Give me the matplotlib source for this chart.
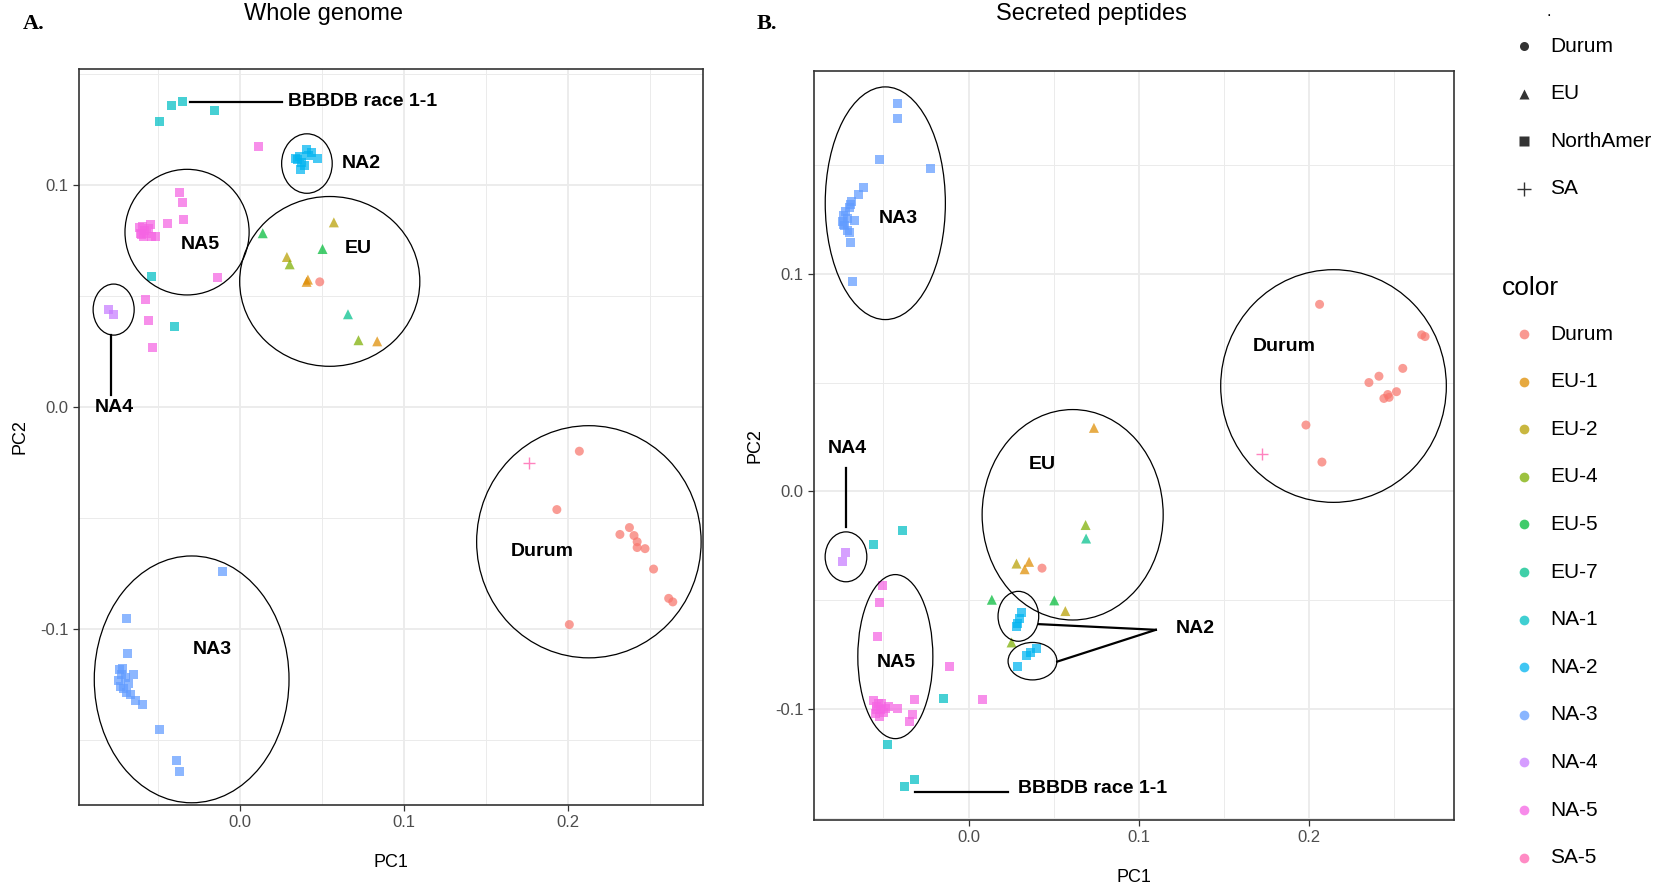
import matplotlib
matplotlib.use("Agg")
import matplotlib.pyplot as plt
from matplotlib.patches import Ellipse

plt.rcParams["font.family"] = ["Liberation Sans", "DejaVu Sans"]
plt.rcParams["axes.unicode_minus"] = False

# =========================
# Groups / colours / shapes
# =========================
groups = ["Durum", "EU-1", "EU-2", "EU-4", "EU-5", "EU-7",
          "NA-1", "NA-2", "NA-3", "NA-4", "NA-5", "SA-5"]
group_colors = ["#F8766D", "#DE8C00", "#B79F00", "#7CAE00", "#00BA38", "#00C08B",
                "#00BFC4", "#00B4F0", "#619CFF", "#C77CFF", "#F564E3", "#FF64B0"]
origins = ["Durum", "EU", "NorthAmer", "SA"]
origin_markers = ["o", "^", "s", "+"]

# =========================
# A. Whole genome (PC1, PC2)
# =========================
wg_durum = [(0.2067, -0.0199), (0.193, -0.0462), (0.2372, -0.0543), (0.2314, -0.0574),
            (0.240, -0.0579), (0.2419, -0.0607), (0.2419, -0.0633), (0.2467, -0.0638),
            (0.2519, -0.073), (0.2611, -0.0862), (0.2636, -0.0878), (0.2006, -0.098),
            (0.0486, 0.0564)]
wg_eu1 = [(0.0414, 0.0574), (0.0406, 0.0564), (0.0836, 0.0296)]
wg_eu2 = [(0.0572, 0.0832), (0.0286, 0.0676)]
wg_eu4 = [(0.0303, 0.0643), (0.0722, 0.0301)]
wg_eu5 = [(0.0139, 0.0783), (0.0503, 0.0712)]
wg_eu7 = [(0.0658, 0.0418)]
wg_na1 = [(-0.0492, 0.1288), (-0.0414, 0.136), (-0.035, 0.1375), (-0.0153, 0.1334),
          (-0.0539, 0.0589), (-0.0397, 0.0365)]
wg_na2 = [(0.0336, 0.112), (0.0364, 0.1128), (0.0406, 0.1161), (0.0433, 0.1145),
          (0.0475, 0.1122), (0.0378, 0.1102), (0.0392, 0.1089), (0.0369, 0.1071),
          (0.035, 0.1115), (0.0419, 0.1135)]
wg_na3 = [(-0.0108, -0.0742), (-0.0692, -0.0952), (-0.0686, -0.111), (-0.0733, -0.1181),
          (-0.0714, -0.1176), (-0.0719, -0.1207), (-0.0742, -0.1232), (-0.0725, -0.1258),
          (-0.0706, -0.127), (-0.0692, -0.1288), (-0.0669, -0.1296), (-0.065, -0.1207),
          (-0.0697, -0.1219), (-0.0678, -0.1245), (-0.0636, -0.1321), (-0.0594, -0.1339),
          (-0.0492, -0.1452), (-0.0386, -0.1594), (-0.0367, -0.1643)]
wg_na4 = [(-0.080, 0.0439), (-0.0772, 0.0416)]
wg_na5 = [(0.0111, 0.1173), (-0.0367, 0.0967), (-0.035, 0.0921), (-0.0344, 0.0844),
          (-0.0442, 0.0827), (-0.0614, 0.0809), (-0.0594, 0.0814), (-0.0581, 0.0796),
          (-0.060, 0.0778), (-0.0567, 0.0783), (-0.0547, 0.0821), (-0.0536, 0.077),
          (-0.0517, 0.077), (-0.0608, 0.0783), (-0.0586, 0.077), (-0.0558, 0.0804),
          (-0.0136, 0.0582), (-0.0572, 0.0485), (-0.0558, 0.0388), (-0.0533, 0.027)]
wg_sa5 = [(0.1761, -0.025)]

# cluster outlines (cx, cy, width, height) and labels
wg_ellipses = [(0.0408, 0.1097, 0.0308, 0.0268), (-0.0322, 0.0788, 0.0756, 0.0566),
               (0.0547, 0.0566, 0.1097, 0.0765), (-0.0769, 0.0439, 0.025, 0.023),
               (-0.0294, -0.1227, 0.1186, 0.1112), (0.2125, -0.0607, 0.1367, 0.1046)]
wg_labels = [("NA2", 0.062, 0.1097, "left"), ("NA5", -0.0239, 0.0732, "center"),
             ("EU", 0.072, 0.0714, "center"), ("NA4", -0.0767, 0.0, "center"),
             ("Durum", 0.1844, -0.0653, "center"), ("NA3", -0.0167, -0.1094, "center"),
             ("BBBDB race 1-1", 0.0294, 0.1375, "left")]
wg_lines = [((-0.0303, 0.0258), (0.1375, 0.1375)), ((-0.0783, -0.0783), (0.0324, 0.0056))]

# =========================
# B. Secreted peptides
# =========================
sp_durum = [(0.2063, 0.0859), (0.2663, 0.0719), (0.2683, 0.0711), (0.2552, 0.0565),
            (0.2412, 0.0529), (0.2353, 0.050), (0.2515, 0.0458), (0.2464, 0.0445),
            (0.2472, 0.0432), (0.2441, 0.0427), (0.1983, 0.0305), (0.2077, 0.0135),
            (0.0432, -0.0352)]
sp_eu1 = [(0.0737, 0.0292), (0.0356, -0.0323), (0.033, -0.0357)]
sp_eu2 = [(0.0282, -0.0331), (0.0569, -0.0549)]
sp_eu4 = [(0.0688, -0.0154), (0.0253, -0.0693)]
sp_eu5 = [(0.0137, -0.0497), (0.0504, -0.050)]
sp_eu7 = [(0.0691, -0.0216)]
sp_na1 = [(-0.0387, -0.018), (-0.0558, -0.0242), (-0.0475, -0.1161), (-0.0376, -0.1354),
          (-0.0316, -0.1323), (-0.0145, -0.0951)]
sp_na2 = [(0.0313, -0.0557), (0.0301, -0.0583), (0.029, -0.0604), (0.0282, -0.0622),
          (0.0401, -0.0719), (0.0367, -0.074), (0.0339, -0.0753), (0.0287, -0.0805)]
sp_na3 = [(-0.0418, 0.1779), (-0.0418, 0.1711), (-0.0523, 0.1526), (-0.0222, 0.1482),
          (-0.062, 0.1396), (-0.0646, 0.1362), (-0.0686, 0.1331), (-0.070, 0.1305),
          (-0.072, 0.1286), (-0.0737, 0.1266), (-0.0743, 0.124), (-0.0728, 0.1219),
          (-0.0714, 0.120), (-0.070, 0.1188), (-0.0671, 0.1245), (-0.0691, 0.1318),
          (-0.0714, 0.1253), (-0.0734, 0.1227), (-0.0691, 0.1141), (-0.0683, 0.0964)]
sp_na4 = [(-0.0723, -0.0279), (-0.0743, -0.032)]
sp_na5 = [(-0.0506, -0.043), (-0.0523, -0.051), (-0.0535, -0.0664), (-0.0114, -0.0805),
          (0.0085, -0.0956), (-0.0316, -0.0956), (-0.0415, -0.0995), (-0.033, -0.1026),
          (-0.0344, -0.1057), (-0.0558, -0.0961), (-0.0543, -0.0987), (-0.0529, -0.0974),
          (-0.0515, -0.100), (-0.0501, -0.1013), (-0.0486, -0.0995), (-0.0549, -0.1021),
          (-0.0526, -0.1031), (-0.0509, -0.0974), (-0.0472, -0.0987), (-0.0543, -0.100)]
sp_sa5 = [(0.1724, 0.0174)]

sp_ellipses = [(-0.0489, 0.1323, 0.0706, 0.1068), (-0.072, -0.030, 0.0245, 0.0229),
               (-0.043, -0.0758, 0.0441, 0.0753), (0.0612, -0.0107, 0.1064, 0.0966),
               (0.0293, -0.0573, 0.0239, 0.0229), (0.0376, -0.0779, 0.0287, 0.0172),
               (0.2145, 0.0484, 0.1326, 0.1068)]
sp_labels = [("NA3", -0.041, 0.1253, "center"), ("NA4", -0.0714, 0.0198, "center"),
             ("NA5", -0.0427, -0.0786, "center"), ("EU", 0.0435, 0.0125, "center"),
             ("NA2", 0.1215, -0.0628, "left"), ("Durum", 0.1855, 0.0667, "center"),
             ("BBBDB race 1-1", 0.029, -0.1365, "left")]
sp_lines = [((-0.0313, 0.023), (-0.138, -0.138)), ((-0.072, -0.072), (0.0107, -0.0161)),
            ((0.0413, 0.1101), (-0.0609, -0.0635)), ((0.0521, 0.1101), (-0.0781, -0.0635))]

wg_data = [wg_durum, wg_eu1, wg_eu2, wg_eu4, wg_eu5, wg_eu7,
           wg_na1, wg_na2, wg_na3, wg_na4, wg_na5, wg_sa5]
sp_data = [sp_durum, sp_eu1, sp_eu2, sp_eu4, sp_eu5, sp_eu7,
           sp_na1, sp_na2, sp_na3, sp_na4, sp_na5, sp_sa5]


def origin_of(group):
    if group == "Durum":
        return 0
    if group.startswith("EU"):
        return 1
    if group.startswith("NA"):
        return 2
    return 3


def panel(ax, data, ellipses, labels, lines, xlim, ylim):
    ax.set_facecolor("white")
    ax.set_xlim(*xlim)
    ax.set_ylim(*ylim)
    ax.set_xticks([0.0, 0.1, 0.2])
    ax.set_yticks([-0.1, 0.0, 0.1])
    ax.set_xticks([-0.05, 0.05, 0.15, 0.25], minor=True)
    ax.set_yticks([-0.15, -0.05, 0.05, 0.15], minor=True)
    ax.grid(which="major", color="#EBEBEB", lw=1.3, zorder=0)
    ax.grid(which="minor", color="#EBEBEB", lw=0.7, zorder=0)
    ax.set_axisbelow(True)
    ax.tick_params(which="minor", length=0)
    ax.tick_params(which="major", length=4, width=0.9, color="#333333",
                   labelcolor="#4D4D4D", labelsize=12)
    for s in ax.spines.values():
        s.set_color("#333333")
        s.set_linewidth(1.2)

    for g, pts, col in zip(groups, data, group_colors):
        xs = [p[0] for p in pts]
        ys = [p[1] for p in pts]
        m = origin_markers[origin_of(g)]
        if m == "+":
            ax.scatter(xs, ys, marker="+", s=75, color=col, lw=1.0, alpha=0.8, zorder=3)
        else:
            size = {"o": 42, "^": 52, "s": 42}[m]
            ax.scatter(xs, ys, marker=m, s=size, color=col, alpha=0.72,
                       edgecolors="none", zorder=3)

    for cx, cy, w, h in ellipses:
        ax.add_patch(Ellipse((cx, cy), w, h, fill=False, ec="black", lw=0.9, zorder=4))
    for xs, ys in lines:
        ax.plot(xs, ys, color="black", lw=1.6, zorder=4)
    for txt, x, y, ha in labels:
        ax.text(x, y, txt, ha=ha, va="center", fontsize=14, fontweight="bold", zorder=5)

    ax.set_xlabel("PC1", fontsize=13, labelpad=17)
    ax.set_ylabel("PC2", fontsize=13, labelpad=8)


W, H = 1657, 890
fig = plt.figure(figsize=(W / 100, H / 100), dpi=100)

# axes boxes in pixels: left, right, top, bottom
axA = fig.add_axes([79 / W, 1 - 805 / H, (703 - 79) / W, (805 - 69) / H])
axB = fig.add_axes([814 / W, 1 - 820 / H, (1454 - 814) / W, (820 - 71) / H])

panel(axA, wg_data, wg_ellipses, wg_labels, wg_lines, (-0.098, 0.282), (-0.1793, 0.1523))
panel(axB, sp_data, sp_ellipses, sp_labels, sp_lines, (-0.0908, 0.2853), (-0.1508, 0.193))

fig.text(324 / W, 1 - 14 / H, "Whole genome", ha="center", va="center", fontsize=17)
fig.text(1091 / W, 1 - 14 / H, "Secreted peptides", ha="center", va="center", fontsize=17)
fig.text(23 / W, 1 - 24 / H, "A.", ha="left", va="center", fontsize=16,
         fontweight="bold", family="Liberation Serif")
fig.text(757 / W, 1 - 24 / H, "B.", ha="left", va="center", fontsize=16,
         fontweight="bold", family="Liberation Serif")

# =========================
# Legends (drawn in a pixel-space overlay)
# =========================
lax = fig.add_axes([0, 0, 1, 1])
lax.set_xlim(0, W)
lax.set_ylim(H, 0)
lax.axis("off")

lax.text(1549, 12, ".", ha="center", va="center", fontsize=12)
for i, (name, m) in enumerate(zip(origins, origin_markers)):
    y = 46 + 47.6 * i
    if m == "+":
        lax.plot([1524], [y], marker="+", ms=10, mew=1.0, color="#333333", ls="none")
    else:
        lax.plot([1524], [y], marker=m, ms=6.5 if m != "^" else 7.5, color="#333333",
                 mec="none", ls="none")
    lax.text(1550, y, name, ha="left", va="center", fontsize=15)

lax.text(1502, 288, "color", ha="left", va="center", fontsize=19)
for i, (name, col) in enumerate(zip(groups, group_colors)):
    y = 334 + 47.6 * i
    lax.plot([1524], [y], marker="o", ms=7, color=col, alpha=0.75, mec="none", ls="none")
    lax.text(1550, y, name, ha="left", va="center", fontsize=15)

fig.savefig("out.png", dpi=100)
